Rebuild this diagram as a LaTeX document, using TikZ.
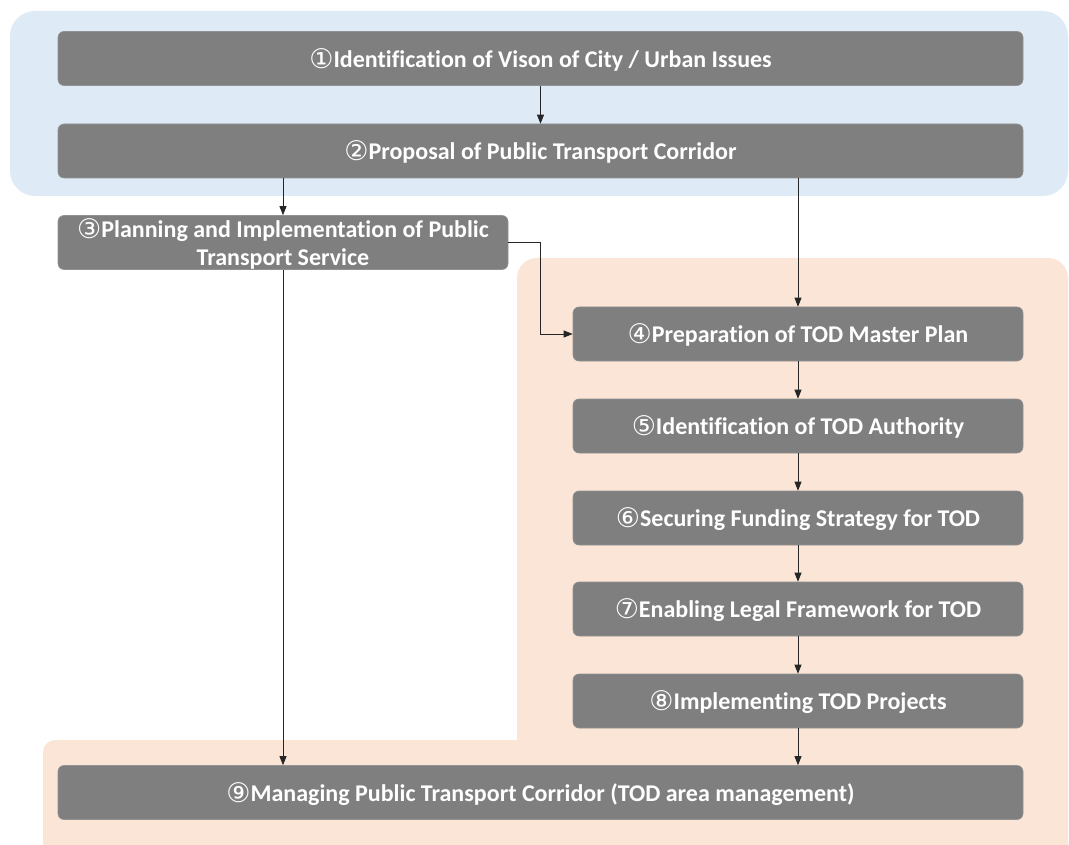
\documentclass[tikz,border=0pt]{standalone}
\usepackage{fontspec}
\setmainfont{Carlito}[Ligatures=NoCommon]
\newfontfamily\circfont{DejaVu Sans}
\usetikzlibrary{arrows.meta,calc}

\definecolor{bandblue}{HTML}{DEEBF7}
\definecolor{bandpeach}{HTML}{FBE5D6}
\definecolor{stepgray}{HTML}{7F7F7F}

\newcommand{\cnum}[1]{{\circfont\mdseries\fontsize{27}{28}\selectfont\raisebox{-1pt}{#1}}}

\tikzset{
  stepbox/.style={rectangle, rounded corners=6pt, fill=stepgray, draw=stepgray!85!white,
    line width=0.6pt, text=white, font=\fontsize{24}{28}\selectfont\bfseries,
    align=center, inner sep=0pt, minimum height=54pt, text depth=1pt},
  wide/.style={minimum width=965pt},
  narrow/.style={minimum width=450pt},
  flow/.style={draw=black!85, line width=0.8pt, -{Triangle[length=9pt,width=7pt]}}
}

\begin{document}
\begin{tikzpicture}[x=1pt,y=-1pt]
  \useasboundingbox (0,0) rectangle (1069,845);
  \clip (0,0) rectangle (1069,845);

  % background bands
  \fill[bandblue, rounded corners=25pt] (10,11) rectangle (1068,196);
  \fill[bandpeach] (43,870) [rounded corners=12pt] -- (43,740) [sharp corners] -- (517,740)
    [rounded corners=20pt] -- (517,258) -- (1068,258) -- (1068,870) [sharp corners] -- cycle;

  % steps
  \node[stepbox, wide]   (b1) at (540.5,58.5) {\cnum{①}Identification of Vison of City / Urban Issues};
  \node[stepbox, wide]   (b2) at (540.5,151)  {\cnum{②}Proposal of Public Transport Corridor};
  \node[stepbox, narrow] (b3) at (283,242.5)  {\cnum{③}Planning and Implementation of Public\\Transport Service};
  \node[stepbox, narrow] (b4) at (798,334)    {\cnum{④}Preparation of TOD Master Plan};
  \node[stepbox, narrow] (b5) at (798,426)    {\cnum{⑤}Identification of TOD Authority};
  \node[stepbox, narrow] (b6) at (798,518)    {\cnum{⑥}Securing Funding Strategy for TOD};
  \node[stepbox, narrow] (b7) at (798,609)    {\cnum{⑦}Enabling Legal Framework for TOD};
  \node[stepbox, narrow] (b8) at (798,701)    {\cnum{⑧}Implementing TOD Projects};
  \node[stepbox, wide]   (b9) at (540.5,792.5){\cnum{⑨}Managing Public Transport Corridor (TOD area management)};

  % connectors
  \draw[flow] (b1) -- (b2);
  \draw[flow] (b2.south -| b3.north) -- (b3.north);
  \draw[flow] (b2.south -| b4.north) -- (b4.north);
  \draw[flow] (b3.east) -- (b3.east -| b1.south) |- (b4.west);
  \draw[flow] (b3.south) -- (b3.south |- b9.north);
  \draw[flow] (b4) -- (b5);
  \draw[flow] (b5) -- (b6);
  \draw[flow] (b6) -- (b7);
  \draw[flow] (b7) -- (b8);
  \draw[flow] (b8.south) -- (b8.south |- b9.north);
\end{tikzpicture}
\end{document}
